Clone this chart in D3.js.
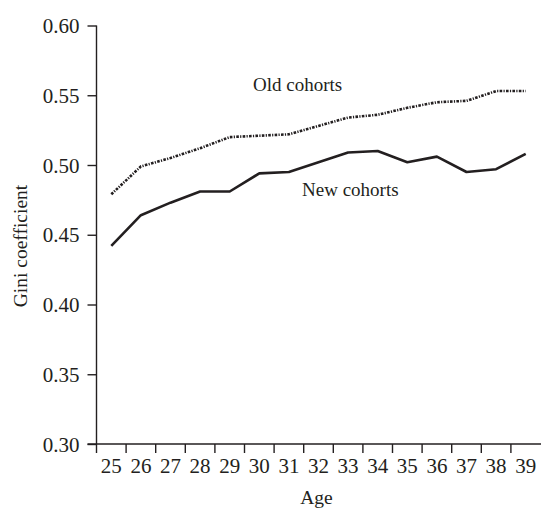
<!DOCTYPE html>
<html>
<head>
<meta charset="utf-8">
<script src="https://cdn.jsdelivr.net/npm/d3@7"></script>
<style>
  body { margin: 0; background: #fff; }
  svg { display: block; }
  text { font-family: "Liberation Serif", "Times New Roman", serif; fill: #231f20; }
</style>
</head>
<body>
<svg id="chart" width="541" height="509"></svg>
<script>
// ages on the x axis
const ages = [25, 26, 27, 28, 29, 30, 31, 32, 33, 34, 35, 36, 37, 38, 39];
// Gini coefficient
const oldCohorts = [0.479, 0.499, 0.505, 0.512, 0.520, 0.521, 0.522, 0.528, 0.534, 0.536, 0.541, 0.545, 0.546, 0.553, 0.553];
const newCohorts = [0.442, 0.464, 0.473, 0.481, 0.481, 0.494, 0.495, 0.502, 0.509, 0.510, 0.502, 0.506, 0.495, 0.497, 0.508];
const yTicks = [0.30, 0.35, 0.40, 0.45, 0.50, 0.55, 0.60];

const ink = "#231f20";
const svg = d3.select("#chart");

const plot = {left: 96.5, right: 540.5, top: 25.5, bottom: 444};

const x = d3.scaleBand()
    .domain(ages)
    .range([plot.left, plot.right])
    .padding(0);

const y = d3.scaleLinear()
    .domain([0.30, 0.60])
    .range([plot.bottom, plot.top]);

// y axis
let yAxis = d3.axisLeft(y)
    .tickValues(yTicks)
    .tickSize(9)
    .tickPadding(8)
    .tickFormat(d3.format(".2f"));

let gy = svg.append("g")
    .attr("transform", "translate(" + plot.left + ",0)")
    .call(yAxis);
gy.select(".domain").attr("d", "M0," + plot.top + "V" + plot.bottom);

// x axis: ticks sit on the band edges, labels in the middle of each band
let edges = ages.map(a => x(a));
let gx = svg.append("g")
    .attr("transform", "translate(0," + plot.bottom + ")");
gx.append("path")
    .attr("class", "domain")
    .attr("d", "M" + (plot.left - 9) + ",0H541");
gx.selectAll(".edge").data(edges).enter().append("line")
    .attr("class", "edge")
    .attr("x1", d => d).attr("x2", d => d)
    .attr("y1", 0).attr("y2", 9);

let xAxis = d3.axisBottom(x).tickSize(0).tickPadding(0);
let gxl = svg.append("g")
    .attr("transform", "translate(0," + plot.bottom + ")")
    .call(xAxis);
gxl.select(".domain").remove();
gxl.selectAll("text").attr("dy", null).attr("y", 29);

svg.selectAll(".domain, .tick line, .edge")
    .attr("stroke", ink)
    .attr("stroke-width", 1.4)
    .attr("fill", "none");
svg.selectAll(".tick text")
    .attr("font-size", 21)
    .attr("font-family", "Liberation Serif, serif")
    .attr("fill", ink);
gy.selectAll(".tick text").attr("dy", "0.34em");

// lines
let line = d3.line()
    .x((d, i) => x(ages[i]) + x.bandwidth() / 2)
    .y(d => y(d));

svg.append("path")
    .datum(oldCohorts)
    .attr("d", line)
    .attr("fill", "none")
    .attr("stroke", ink)
    .attr("stroke-width", 2.6)
    .attr("stroke-dasharray", "2.6,1.3,1.2,1.3");

svg.append("path")
    .datum(newCohorts)
    .attr("d", line)
    .attr("fill", "none")
    .attr("stroke", ink)
    .attr("stroke-width", 2.6)
    .attr("stroke-linejoin", "round");

// labels
svg.append("text")
    .attr("x", 253).attr("y", 90.5)
    .attr("font-size", 19)
    .text("Old cohorts");

svg.append("text")
    .attr("x", 302).attr("y", 196)
    .attr("font-size", 19)
    .text("New cohorts");

svg.append("text")
    .attr("x", 316.5).attr("y", 504)
    .attr("text-anchor", "middle")
    .attr("font-size", 19.5)
    .text("Age");

svg.append("text")
    .attr("transform", "translate(27,246) rotate(-90)")
    .attr("text-anchor", "middle")
    .attr("font-size", 19.5)
    .text("Gini coefficient");
</script>
</body>
</html>
